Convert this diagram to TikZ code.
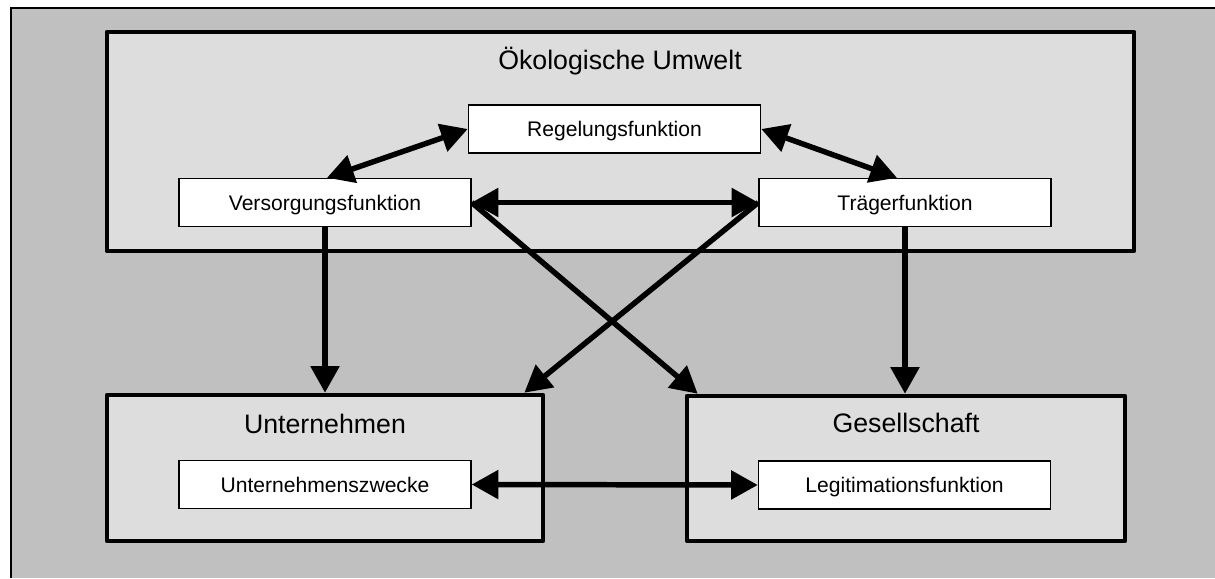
\documentclass[tikz,border=0pt]{standalone}
\usepackage{fontspec}
\setmainfont{Liberation Sans}
\usetikzlibrary{arrows.meta,calc}
\definecolor{frameGray}{HTML}{C0C0C0}
\definecolor{areaGray}{HTML}{DDDDDD}
\tikzstyle{functionBox}=[shape = rectangle, draw, fill = white, line width = 1pt, minimum width = 7.3cm, minimum height = 1.2cm, inner sep = 0pt, text height = 10.7pt, text depth = 0pt, font = \fontsize{15}{18}\selectfont]
\tikzstyle{areaBox}=[shape = rectangle, draw, fill = areaGray, line width = 3.2pt, line join = round, inner sep = 0pt]

\begin{document}
\begin{tikzpicture}[x = 0.025cm, y = -0.025cm]
\tikzstyle{areaTitle}=[anchor = base, inner sep = 0pt, font = \fontsize{19}{23}\selectfont]
\tikzstyle{oneWay}=[line width = 3.9pt, -{Triangle[length = 19pt, width = 20pt]}]
\tikzstyle{twoWay}=[line width = 3.9pt, {Triangle[length = 19pt, width = 20pt]}-{Triangle[length = 19pt, width = 20pt]}]
\useasboundingbox (0,0) rectangle (1215,578);
\fill[frameGray] (11,8) rectangle (1215,578);
\draw[line width = 1.9pt] (11,578) -- (11,8) -- (1215,8);
% areas
\node[areaBox, minimum width = 25.675cm, minimum height = 5.475cm] (umwelt) at (620.5,141.5) {};
\node[areaBox, minimum width = 10.9cm, minimum height = 3.65cm] (unternehmen) at (325,468) {};
\node[areaBox, minimum width = 10.95cm, minimum height = 3.625cm] (gesellschaft) at (906,468.5) {};
\node[areaTitle] (umweltTitle) at (620,69) {Ökologische Umwelt};
\node[areaTitle] (unternehmenTitle) at (325,433) {Unternehmen};
\node[areaTitle] (gesellschaftTitle) at (906,432) {Gesellschaft};
% functions
\node[functionBox] (regelung) at (614.5,129) {Regelungsfunktion};
\node[functionBox] (versorgung) at (325,202.5) {Versorgungsfunktion};
\node[functionBox] (traeger) at (905,202.5) {Trägerfunktion};
\node[functionBox] (zwecke) at (325,484.5) {Unternehmenszwecke};
\node[functionBox] (legitimation) at (904.5,485) {Legitimationsfunktion};
% arrows
\draw[twoWay] (regelung.west) -- ($(versorgung.north)+(2,0)$);
\draw[twoWay] (regelung.east) -- ($(traeger.north)+(-8,0)$);
\draw[twoWay] (versorgung.east) -- (traeger.west);
\draw[oneWay] (versorgung.south) -- (versorgung.south |- unternehmen.north);
\draw[oneWay] (traeger.south) -- (traeger.south |- gesellschaft.north);
\draw[oneWay] (versorgung.east) -- ($(gesellschaft.north west)+(13,0)$);
\draw[oneWay] (traeger.west) -- ($(unternehmen.north east)+(-21,0)$);
\draw[twoWay] (zwecke.east) -- (legitimation.west);
\end{tikzpicture}
\end{document}
